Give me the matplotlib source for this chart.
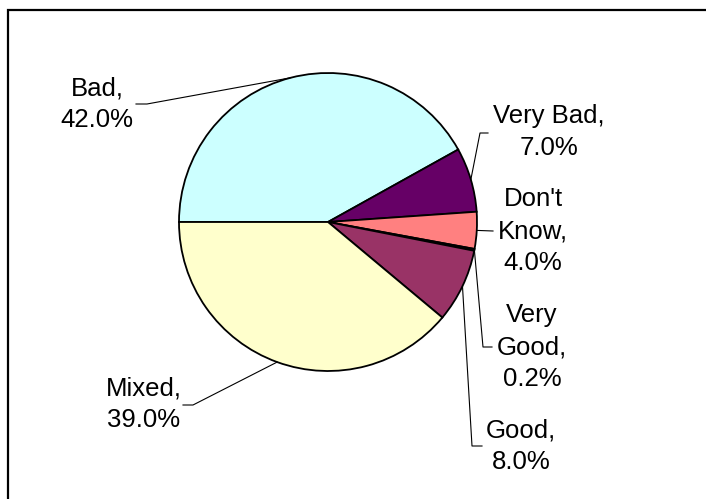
import numpy as np
import matplotlib.pyplot as plt
from matplotlib.patches import Rectangle

# data, clockwise from 9 o'clock
names = ['Bad', 'Very Bad', "Don't\nKnow", 'Very\nGood', 'Good', 'Mixed']
values = [42.0, 7.0, 4.0, 0.2, 8.0, 39.0]
colors = ['#CCFFFF', '#660066', '#FF8080', '#9999FF', '#993366', '#FFFFCC']

W, H = 706, 499

# label layout, pixel coords from top-left
text_pos = [(97, 104), (549, 132), (533, 231), (532, 347), (521, 446), (144, 404)]
elbows = [(147, 104), (480, 133), (493, 231), (483, 347), (472, 446), (193, 405)]
ends = [(136, 104), (488, 133), (493, 231), (492, 347), (482, 446), (183, 405)]

plt.rcParams['font.family'] = ['Liberation Sans', 'DejaVu Sans']

fig = plt.figure(figsize=(W / 100, H / 100), dpi=100)
ax = fig.add_axes([0, 0, 1, 1])

cx, cy, r = 328, H - 222, 149
wedges, _ = ax.pie(values, colors=colors, startangle=180, counterclock=False,
                   center=(cx, cy), radius=r,
                   wedgeprops=dict(edgecolor='black', linewidth=1.3))
ax.set_xlim(0, W)
ax.set_ylim(0, H)
ax.axis('off')

for w, name, v, tp, el, en in zip(wedges, names, values, text_pos, elbows, ends):
    mid = np.deg2rad((w.theta1 + w.theta2) / 2)
    px, py = cx + r * np.cos(mid), cy + r * np.sin(mid)
    ax.plot([px, el[0], en[0]], [py, H - el[1], H - en[1]], color='black', lw=0.8)
    ax.text(tp[0], H - tp[1], f'{name},\n{v:.1f}%', ha='center', va='center',
            fontsize=18.5, linespacing=1.42, color='black')

# chart border (runs off right and bottom)
fig.patches.append(Rectangle((7.5, -20), W + 20, H - 10 + 20, transform=None,
                             fill=False, edgecolor='black', lw=1.6))

fig.savefig('out.png', dpi=100)
